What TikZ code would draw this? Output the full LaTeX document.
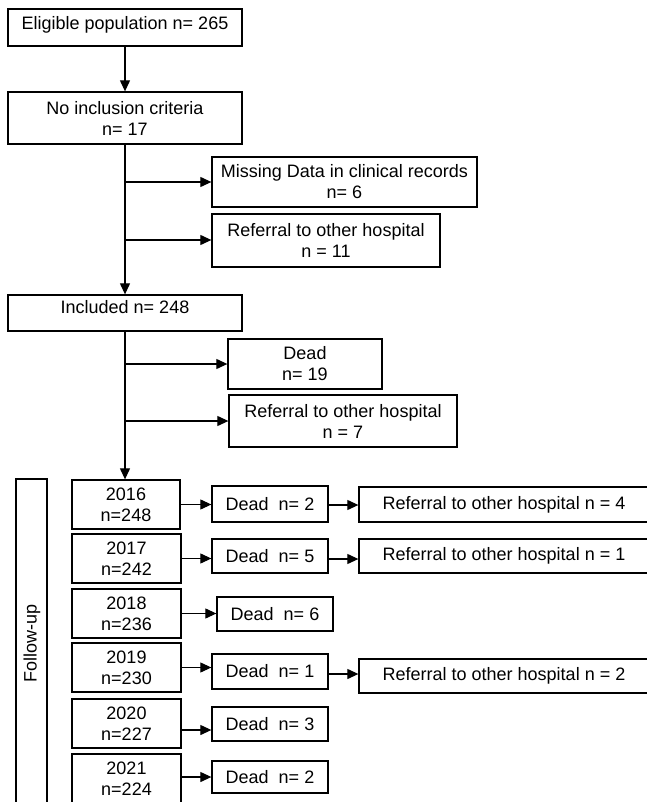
\documentclass[tikz,border=0pt]{standalone}
\usepackage{fontspec}
\setmainfont{Liberation Sans}
\usetikzlibrary{arrows.meta}
\newcommand\fbx[7][]{\node[box,#1,minimum width={(#5-#3)*1pt},minimum height={(#6-#4)*1pt}] (#2) at ({(#3+#5)/2},{(#4+#6)/2}) {#7};}
\begin{document}
\begin{tikzpicture}[x=1pt,y=-1pt,
  box/.style={draw,line width=1.3pt,inner sep=0pt,align=center,font=\fontsize{18}{21}\selectfont},
  conn/.style={line width=1.1pt},
  arr/.style={conn,-{Triangle[length=11pt,width=10pt]}}]
\useasboundingbox (0,0) rectangle (646,802);
% main column
\fbx[text depth=9.5pt]{elig}{8}{9}{242}{46}{Eligible population n= 265}
\fbx{noinc}{8}{92}{242}{144}{No inclusion criteria\\n= 17}
\fbx{missing}{212}{157}{477}{207}{Missing Data in clinical records\\n= 6}
\fbx{ref11}{212}{214}{440}{267}{Referral to other hospital\\n = 11}
\fbx[text height=13pt,text depth=13pt]{incl}{8}{295}{242}{331}{Included n= 248}
\fbx{dead19}{228}{339}{382}{389}{Dead\\n= 19}
\fbx{ref7}{229}{395}{457}{447}{Referral to other hospital\\n = 7}
% follow-up
\fbx{follow}{16}{479}{47}{830}{}
\node[rotate=90,font=\fontsize{18}{21}\selectfont,inner sep=0pt] (fulabel) at (32,643) {Follow-up};
\fbx{y16}{72}{480}{180}{529}{2016\\n=248}
\fbx{y17}{72}{534}{181}{583}{2017\\n=242}
\fbx{y18}{72}{589}{181}{638}{2018\\n=236}
\fbx{y19}{72}{643}{181}{692}{2019\\n=230}
\fbx{y20}{72}{699}{181}{748}{2020\\n=227}
\fbx{y21}{72}{754}{181}{804}{2021\\n=224}
\fbx{d16}{212}{486}{328}{522}{Dead\ \ n= 2}
\fbx{d17}{212}{539}{328}{573}{Dead\ \ n= 5}
\fbx{d18}{217}{597}{333}{631}{Dead\ \ n= 6}
\fbx{d19}{212}{654}{328}{689}{Dead\ \ n= 1}
\fbx{d20}{212}{707}{328}{741}{Dead\ \ n= 3}
\fbx{d21}{212}{761}{328}{793}{Dead\ \ n= 2}
\fbx{r16}{359}{487}{649}{522}{Referral to other hospital n = 4}
\fbx{r17}{359}{539}{649}{573}{Referral to other hospital n = 1}
\fbx{r19}{359}{659}{649}{693}{Referral to other hospital n = 2}
% connectors
\draw[arr] (elig.south) -- (noinc.north);
\draw[arr] (noinc.south) -- (incl.north);
\coordinate (j1) at (125,182);
\coordinate (j2) at (125,240);
\draw[arr] (j1) -- (j1 -| missing.west);
\draw[arr] (j2) -- (j2 -| ref11.west);
\draw[arr] (incl.south) -- (incl.south |- y16.north);
\coordinate (j3) at (125,364);
\coordinate (j4) at (125,421);
\draw[arr] (j3) -- (j3 -| dead19.west);
\draw[arr] (j4) -- (j4 -| ref7.west);
\draw[arr] (y16.east) -- (y16.east -| d16.west);
\draw[arr] (y17.east) -- (y17.east -| d17.west);
\draw[arr] (y18.east) -- (y18.east -| d18.west);
\draw[arr] (y19.east) -- (y19.east -| d19.west);
\coordinate (a20) at ([yshift=-6.5pt]y20.east);
\draw[arr] (a20) -- (a20 -| d20.west);
\coordinate (a21) at ([yshift=2pt]y21.east);
\draw[arr] (a21) -- (a21 -| d21.west);
\coordinate (b16) at ([yshift=-1pt]d16.east);
\draw[arr] (b16) -- (b16 -| r16.west);
\coordinate (b17) at ([yshift=-3pt]d17.east);
\draw[arr] (b17) -- (b17 -| r17.west);
\coordinate (b19) at ([yshift=-2.5pt]d19.east);
\draw[arr] (b19) -- (b19 -| r19.west);
\end{tikzpicture}
\end{document}
